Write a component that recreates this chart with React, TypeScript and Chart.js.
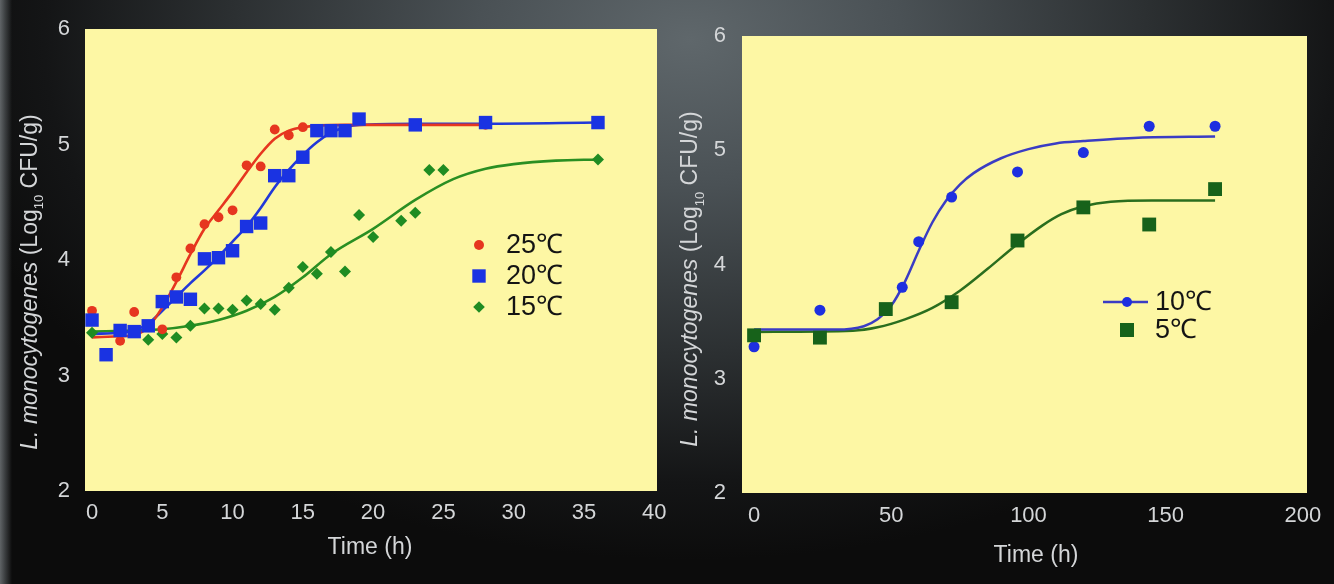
import React, { useEffect, useRef } from 'react';
import { Chart, registerables } from 'chart.js';

Chart.register(...registerables);

// ---------- tick labels ----------
const leftXTicks = [0, 5, 10, 15, 20, 25, 30, 35, 40];
const rightXTicks = [0, 50, 100, 150, 200];
const yTicks = [2, 3, 4, 5, 6];

// ---------- left panel: 25, 20, 15 °C ----------
const t25 = [0, 2, 3, 5, 6, 7, 8, 9, 10, 11, 12, 13, 14, 15, 28];
const y25 = [3.56, 3.30, 3.55, 3.40, 3.85, 4.10, 4.31, 4.37, 4.43, 4.82, 4.81, 5.13, 5.08, 5.15, 5.17];
const t25Fit = [0, 2, 3, 4, 5, 6, 7, 8, 9, 10, 11, 12, 13, 14, 15, 18, 28];
const y25Fit = [3.33, 3.34, 3.35, 3.42, 3.59, 3.81, 4.05, 4.27, 4.43, 4.59, 4.76, 4.92, 5.05, 5.12, 5.15, 5.17, 5.17];

const t20 = [0, 1, 2, 3, 4, 5, 6, 7, 8, 9, 10, 11, 12, 13, 14, 15, 16, 17, 18, 19, 23, 28, 36];
const y20 = [3.48, 3.18, 3.39, 3.38, 3.43, 3.64, 3.68, 3.66, 4.01, 4.02, 4.08, 4.29, 4.32, 4.73, 4.73, 4.89, 5.12, 5.12, 5.12, 5.22, 5.17, 5.19, 5.19];
const t20Fit = [0, 2, 3, 4, 5, 6, 7, 8, 9, 10, 11, 12, 13, 14, 15, 16, 17, 18, 19, 23, 28, 36];
const y20Fit = [3.36, 3.37, 3.39, 3.45, 3.56, 3.68, 3.80, 3.91, 4.03, 4.16, 4.29, 4.45, 4.63, 4.78, 4.91, 5.02, 5.10, 5.15, 5.17, 5.18, 5.18, 5.19];

const t15 = [0, 4, 5, 6, 7, 8, 9, 10, 11, 12, 13, 14, 15, 16, 17, 18, 19, 20, 22, 23, 24, 25, 36];
const y15 = [3.37, 3.31, 3.36, 3.33, 3.43, 3.58, 3.58, 3.57, 3.65, 3.62, 3.57, 3.76, 3.94, 3.88, 4.07, 3.90, 4.39, 4.20, 4.34, 4.41, 4.78, 4.78, 4.87];
const t15Fit = [0, 3, 5, 7, 9, 11, 13, 15, 17, 20, 23, 25.7, 28, 30, 33, 36];
const y15Fit = [3.38, 3.39, 3.40, 3.43, 3.48, 3.56, 3.68, 3.85, 4.05, 4.27, 4.52, 4.70, 4.79, 4.83, 4.86, 4.87];

// ---------- right panel: 10, 5 °C ----------
const t10 = [0, 24, 54, 60, 72, 96, 120, 144, 168];
const y10 = [3.28, 3.60, 3.80, 4.20, 4.59, 4.81, 4.98, 5.21, 5.21];
const t10Fit = [0, 30, 40, 45, 50, 55, 60, 65, 70, 75, 80, 90, 100, 110, 120, 140, 168];
const y10Fit = [3.43, 3.43, 3.46, 3.52, 3.64, 3.85, 4.12, 4.37, 4.56, 4.70, 4.80, 4.93, 5.01, 5.06, 5.08, 5.11, 5.12];

const t5 = [0, 24, 48, 72, 96, 120, 144, 168];
const y5 = [3.38, 3.36, 3.61, 3.67, 4.21, 4.50, 4.35, 4.66];
const t5Fit = [0, 36, 45, 55, 65, 75, 85, 95, 105, 112, 120, 130, 145, 168];
const y5Fit = [3.41, 3.42, 3.45, 3.52, 3.62, 3.77, 3.96, 4.16, 4.34, 4.44, 4.51, 4.55, 4.56, 4.56];

// ---------- labels ----------
const leftLegend = ['25℃', '20℃', '15℃'];
const rightLegend = ['10℃', '5℃'];
const xTitle = 'Time (h)';

// ---------- style ----------
const FONT = '"Liberation Sans", Arial, Helvetica, sans-serif';
const TICK_COLOR = '#d4d6d8';
const YELLOW = '#fdf7a4';
const RED = '#e6361f';
const BLUE = '#1a33e2';
const GREEN = '#1f8c22';
const BLUE2 = '#1e2fe0';
const BLUE2_LINE = '#3a3cc4';
const GREEN2 = '#17621a';
const GREEN2_LINE = '#2a6e1e';

const pts = (xs: number[], ys: number[]) => xs.map((x, i) => ({ x, y: ys[i] }));

function drawMarker(ctx: CanvasRenderingContext2D, style: string, x: number, y: number, r: number, color: string) {
  ctx.fillStyle = color;
  ctx.beginPath();
  if (style === 'circle') ctx.arc(x, y, r, 0, Math.PI * 2);
  else if (style === 'rect') ctx.rect(x - r, y - r, 2 * r, 2 * r);
  else {
    ctx.moveTo(x - r, y);
    ctx.lineTo(x, y - r);
    ctx.lineTo(x + r, y);
    ctx.lineTo(x, y + r);
    ctx.closePath();
  }
  ctx.fill();
}

function drawYTitle(ctx: CanvasRenderingContext2D, cx: number, cy: number, size: number) {
  const parts = [
    { text: 'L. monocytogenes', font: `italic ${size}px ${FONT}`, dy: 0 },
    { text: ' (Log', font: `${size}px ${FONT}`, dy: 0 },
    { text: '10', font: `${Math.round(size * 0.58)}px ${FONT}`, dy: size * 0.28 },
    { text: ' CFU/g)', font: `${size}px ${FONT}`, dy: 0 },
  ];
  ctx.save();
  ctx.translate(cx, cy);
  ctx.rotate(-Math.PI / 2);
  let total = 0;
  for (const p of parts) {
    ctx.font = p.font;
    total += ctx.measureText(p.text).width;
  }
  let x = -total / 2;
  ctx.fillStyle = TICK_COLOR;
  ctx.textBaseline = 'alphabetic';
  ctx.textAlign = 'left';
  for (const p of parts) {
    ctx.font = p.font;
    ctx.fillText(p.text, x, size * 0.36 + p.dy);
    x += ctx.measureText(p.text).width;
  }
  ctx.restore();
}

type LegendItem = { label: string; style: string; r: number; color: string; line?: string };

function makePanelPlugin(opts: {
  yTitle: [number, number];
  xTitle: [number, number];
  legendX: number;
  textX: number;
  legendY: number[];
  legendFont: number;
  items: LegendItem[];
  lineSpan?: [number, number];
}) {
  return {
    id: 'panelDeco',
    beforeDraw(chart: any) {
      const { ctx, chartArea } = chart;
      ctx.save();
      ctx.fillStyle = YELLOW;
      ctx.fillRect(chartArea.left, chartArea.top, chartArea.right - chartArea.left, chartArea.bottom - chartArea.top);
      ctx.restore();
    },
    afterDraw(chart: any) {
      const ctx: CanvasRenderingContext2D = chart.ctx;
      drawYTitle(ctx, opts.yTitle[0], opts.yTitle[1], 23);
      ctx.save();
      ctx.font = `23px ${FONT}`;
      ctx.fillStyle = TICK_COLOR;
      ctx.textAlign = 'center';
      ctx.textBaseline = 'middle';
      ctx.fillText(xTitle, opts.xTitle[0], opts.xTitle[1]);
      opts.items.forEach((it, i) => {
        const y = opts.legendY[i];
        if (it.line && opts.lineSpan) {
          ctx.strokeStyle = it.line;
          ctx.lineWidth = 2.5;
          ctx.beginPath();
          ctx.moveTo(opts.lineSpan[0], y);
          ctx.lineTo(opts.lineSpan[1], y);
          ctx.stroke();
        }
        drawMarker(ctx, it.style, opts.legendX, y, it.r, it.color);
        ctx.font = `${opts.legendFont}px ${FONT}`;
        ctx.fillStyle = '#141414';
        ctx.textAlign = 'left';
        ctx.textBaseline = 'middle';
        ctx.fillText(it.label, opts.textX, y + 1);
      });
      ctx.restore();
    },
  };
}

function scatterSet(data: any[], style: string, r: number, color: string) {
  return {
    data,
    showLine: false,
    pointStyle: style,
    pointRadius: r,
    pointBackgroundColor: color,
    pointBorderColor: color,
    pointBorderWidth: 0,
    borderColor: color,
    backgroundColor: color,
  };
}

function curveSet(data: any[], color: string, w: number) {
  return {
    data,
    showLine: true,
    pointRadius: 0,
    borderColor: color,
    backgroundColor: color,
    borderWidth: w,
    cubicInterpolationMode: 'monotone',
    fill: false,
  };
}

function makeScales(xMin: number, xMax: number, xt: number[], yWidth: number, xHeight: number, yPad: number, xPad: number) {
  const tickFont = { family: FONT, size: 22 };
  return {
    x: {
      type: 'linear',
      min: xMin,
      max: xMax,
      grid: { display: false, drawTicks: false },
      border: { display: false },
      ticks: { color: TICK_COLOR, font: tickFont, padding: xPad, autoSkip: false, maxRotation: 0 },
      afterBuildTicks: (s: any) => {
        s.ticks = xt.map((v) => ({ value: v }));
      },
      afterFit: (s: any) => {
        s.height = xHeight;
      },
    },
    y: {
      type: 'linear',
      min: 2,
      max: 6,
      grid: { display: false, drawTicks: false },
      border: { display: false },
      ticks: { color: TICK_COLOR, font: tickFont, padding: yPad },
      afterBuildTicks: (s: any) => {
        s.ticks = yTicks.map((v) => ({ value: v }));
      },
      afterFit: (s: any) => {
        s.width = yWidth;
      },
    },
  };
}

const leftConfig: any = {
  type: 'scatter',
  data: {
    datasets: [
      scatterSet(pts(t20, y20), 'rect', 9.5, BLUE),
      scatterSet(pts(t25, y25), 'circle', 4.9, RED),
      scatterSet(pts(t15, y15), 'rectRot', 6, GREEN),
      curveSet(pts(t25Fit, y25Fit), RED, 2.6),
      curveSet(pts(t20Fit, y20Fit), '#2238d8', 2.6),
      curveSet(pts(t15Fit, y15Fit), '#2a8f22', 2.6),
    ],
  },
  options: {
    responsive: false,
    animation: false,
    events: [],
    layout: { padding: { left: 0, right: 23, top: 29, bottom: 0 } },
    plugins: { legend: { display: false }, tooltip: { enabled: false } },
    scales: makeScales(-0.5, 40.2, leftXTicks, 85, 93, 15, 9),
  },
  plugins: [
    makePanelPlugin({
      yTitle: [28.5, 282],
      xTitle: [370, 548],
      legendX: 479,
      textX: 506,
      legendY: [245, 276, 307],
      legendFont: 27,
      items: [
        { label: leftLegend[0], style: 'circle', r: 5, color: RED },
        { label: leftLegend[1], style: 'rect', r: 6.7, color: BLUE },
        { label: leftLegend[2], style: 'rectRot', r: 5.8, color: GREEN },
      ],
    }),
  ],
};

const rightConfig: any = {
  type: 'scatter',
  data: {
    datasets: [
      scatterSet(pts(t5, y5), 'rect', 9.8, GREEN2),
      scatterSet(pts(t10, y10), 'circle', 5.5, BLUE2),
      curveSet(pts(t10Fit, y10Fit), BLUE2_LINE, 2.5),
      curveSet(pts(t5Fit, y5Fit), GREEN2_LINE, 2.5),
    ],
  },
  options: {
    responsive: false,
    animation: false,
    events: [],
    layout: { padding: { left: 0, right: 27, top: 36, bottom: 0 } },
    plugins: { legend: { display: false }, tooltip: { enabled: false } },
    scales: makeScales(-4.4, 201.5, rightXTicks, 75, 91, 16, 10),
  },
  plugins: [
    makePanelPlugin({
      yTitle: [22, 279],
      xTitle: [369, 556],
      legendX: 460,
      textX: 488,
      legendY: [302, 330],
      legendFont: 27,
      lineSpan: [436, 481],
      items: [
        { label: rightLegend[0], style: 'circle', r: 5, color: BLUE2, line: BLUE2_LINE },
        { label: rightLegend[1], style: 'rect', r: 7, color: GREEN2 },
      ],
    }),
  ],
};

function ChartPanel({ config, left, width }: { config: any; left: number; width: number }) {
  const ref = useRef<HTMLCanvasElement | null>(null);
  useEffect(() => {
    if (!ref.current) return;
    const chart = new Chart(ref.current, config);
    return () => chart.destroy();
  }, [config]);
  return (
    <canvas
      ref={ref}
      width={width}
      height={584}
      style={{ position: 'absolute', left, top: 0, width, height: 584 }}
    />
  );
}

const BG = [
  'linear-gradient(to right, rgba(110,115,118,0.85) 0px, rgba(90,95,98,0.6) 5px, rgba(0,0,0,0) 12px)',
  'radial-gradient(ellipse 760px 520px at 690px 40px, #5f676b 0%, #4a5155 28%, #2c3032 60%, #141516 85%, #0c0c0c 100%)',
].join(', ');

export default function App() {
  return (
    <div
      style={{
        position: 'absolute',
        left: 0,
        top: 0,
        width: 1334,
        height: 584,
        overflow: 'hidden',
        background: BG,
      }}
    >
      <ChartPanel config={leftConfig} left={0} width={680} />
      <ChartPanel config={rightConfig} left={667} width={667} />
    </div>
  );
}
